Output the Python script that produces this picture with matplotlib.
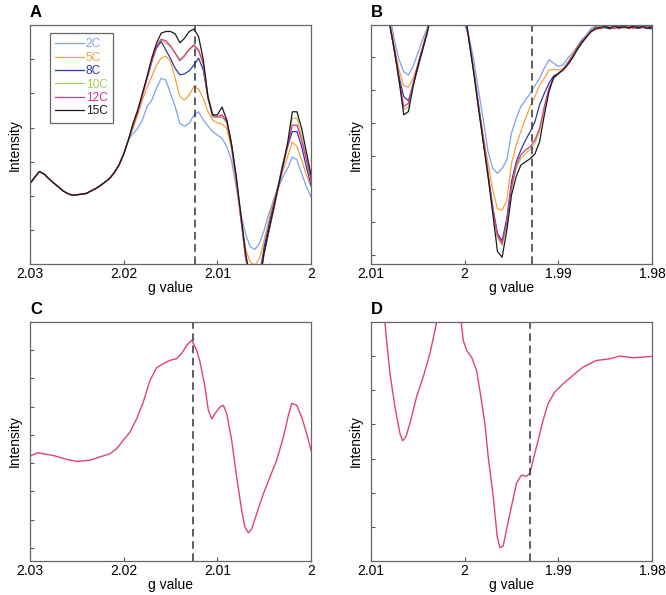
import matplotlib
matplotlib.use('Agg')
import matplotlib.pyplot as plt
import numpy as np

plt.rcParams['font.family'] = ['Liberation Sans', 'DejaVu Sans']

# ---------------- Data ----------------
temps = ['2C', '5C', '8C', '10C', '12C', '15C']
colors = ['#7f9ff2', '#f5a040', '#2b3aa8', '#a8cf52', '#e0338a', '#1a1a1a']

# Panel A: shared baseline part (g 2.030 -> 2.0195) and per-temperature tails (2.019 -> 2.000)
a_g_common = np.round(np.arange(2.0300, 2.0194, -0.0005), 4)
a_g_tail = np.round(np.arange(2.0190, 1.99995, -0.0005), 4)
a_common = [2.36, 2.54, 2.71, 2.64, 2.51, 2.38, 2.27, 2.15, 2.07, 2.02, 2.03,
            2.05, 2.07, 2.14, 2.21, 2.30, 2.40, 2.51, 2.68, 2.90, 3.22, 3.63]
a_2C = [3.83, 3.97, 4.22, 4.61, 4.80, 5.15, 5.44, 5.39, 5.00, 4.61, 4.12, 4.04, 4.12,
        4.37, 4.46, 4.22, 4.04, 3.88, 3.78, 3.68, 3.44, 3.05, 2.27, 1.48, 0.90, 0.51,
        0.43, 0.61, 1.00, 1.48, 1.88, 2.22, 2.56, 2.80, 3.14, 3.05, 2.66, 2.27, 1.97]
a_5C = [3.97, 4.37, 4.80, 5.18, 5.49, 5.83, 6.03, 6.09, 5.93, 5.44, 4.90, 4.80, 4.95,
        5.20, 5.12, 4.85, 4.46, 4.22, 4.14, 4.10, 3.97, 3.39, 2.41, 1.34, 0.46, 0.07,
        -0.03, 0.17, 0.70, 1.29, 1.88, 2.27, 2.75, 3.14, 3.58, 3.44, 3.05, 2.61, 2.27]
a_8C = [4.07, 4.46, 4.95, 5.44, 5.93, 6.32, 6.52, 6.27, 6.02, 5.73, 5.54, 5.57, 5.66,
        5.83, 6.03, 5.68, 4.85, 4.32, 4.30, 4.30, 4.22, 3.54, 2.56, 1.39, 0.21, -0.42,
        -0.57, -0.32, 0.51, 1.14, 1.73, 2.31, 2.95, 3.44, 3.88, 3.88, 3.44, 2.85, 2.31]
a_10C = [4.10, 4.48, 4.97, 5.47, 5.96, 6.39, 6.58, 6.46, 6.37, 6.19, 5.98, 6.13, 6.27,
         6.39, 6.23, 5.83, 4.88, 4.34, 4.30, 4.30, 4.14, 3.47, 2.49, 1.37, 0.24, -0.52,
         -0.71, -0.52, 0.33, 0.98, 1.61, 2.27, 2.90, 3.54, 4.27, 4.27, 3.73, 3.14, 2.56]
a_12C = [4.07, 4.46, 4.95, 5.44, 5.93, 6.37, 6.58, 6.54, 6.39, 6.17, 5.96, 6.09, 6.29,
         6.42, 6.27, 5.88, 4.90, 4.37, 4.32, 4.37, 4.17, 3.49, 2.51, 1.39, 0.26, -0.47,
         -0.66, -0.47, 0.31, 0.95, 1.58, 2.22, 2.85, 3.44, 4.07, 4.07, 3.63, 3.05, 2.46]
a_15C = [4.12, 4.51, 5.00, 5.49, 6.03, 6.46, 6.76, 6.81, 6.81, 6.74, 6.48, 6.61, 6.81,
         6.88, 6.66, 5.98, 4.90, 4.37, 4.37, 4.60, 4.22, 3.54, 2.61, 1.48, 0.36, -0.47,
         -0.76, -0.57, 0.36, 1.00, 1.63, 2.27, 2.90, 3.54, 4.46, 4.46, 3.97, 3.29, 2.61]

# Panel B: g 2.010 -> 1.980
b_g = np.round(np.arange(2.0100, 1.97995, -0.0005), 4)
b_2C = [10.5, 9.6, 8.6, 7.7, 7.3, 6.53, 5.92, 5.56, 5.46, 5.72, 6.12, 6.53, 6.88, 7.4, 8.6,
        9.6, 10.2, 10.2, 9.6, 8.6, 7.0, 6.58, 5.87, 4.95, 4.09, 3.13, 2.62, 2.47, 2.62, 2.87,
        3.69, 4.14, 4.50, 4.70, 4.90, 5.13, 5.36, 5.67, 5.92, 5.82, 5.72, 5.77, 5.97, 6.12,
        6.32, 6.53, 6.68, 6.88, 6.95, 6.91, 6.88, 6.93, 6.90, 6.86, 6.92, 6.89, 6.94, 6.88,
        6.91, 6.87, 6.90]
b_5C = [10.5, 9.6, 8.6, 7.7, 7.1, 6.32, 5.61, 5.13, 5.09, 5.36, 5.77, 6.32, 6.81, 7.4, 8.6,
        9.6, 10.2, 10.2, 9.6, 8.6, 7.4, 6.48, 5.56, 4.55, 3.63, 2.77, 1.96, 1.40, 1.35, 1.65,
        2.77, 3.33, 3.74, 4.14, 4.50, 4.80, 5.16, 5.36, 5.61, 5.63, 5.61, 5.66, 5.84, 6.07,
        6.32, 6.48, 6.65, 6.81, 6.93, 6.90, 6.94, 6.89, 6.92, 6.88, 6.95, 6.91, 6.87, 6.93,
        6.90, 6.94, 6.89]
b_8C = [10.5, 9.6, 8.6, 7.7, 7.0, 6.22, 5.41, 4.80, 4.68, 5.16, 5.66, 6.22, 6.75, 7.4, 8.6,
        9.6, 10.2, 10.2, 9.6, 8.6, 7.4, 6.48, 5.53, 4.50, 3.48, 2.47, 1.45, 0.64, 0.42, 1.10,
        2.21, 2.82, 3.18, 3.48, 3.74, 4.04, 4.55, 4.90, 5.21, 5.43, 5.51, 5.61, 5.82, 6.02,
        6.27, 6.48, 6.63, 6.81, 6.91, 6.87, 6.91, 6.86, 6.93, 6.89, 6.94, 6.88, 6.92, 6.87,
        6.91, 6.89, 6.86]
b_10C = [10.5, 9.6, 8.6, 7.7, 7.0, 6.20, 5.26, 4.40, 4.50, 5.16, 5.74, 6.25, 6.76, 7.4, 8.6,
         9.6, 10.2, 10.2, 9.6, 8.6, 7.4, 6.46, 5.49, 4.42, 3.40, 2.39, 1.35, 0.52, 0.28, 0.92,
         2.01, 2.62, 2.92, 3.08, 3.20, 3.38, 3.74, 4.40, 5.01, 5.37, 5.50, 5.62, 5.79, 5.99,
         6.23, 6.44, 6.62, 6.80, 6.90, 6.86, 6.92, 6.96, 6.89, 6.93, 6.87, 6.92, 6.95, 6.89,
         6.94, 6.90, 6.94]
b_12C = [10.5, 9.6, 8.6, 7.7, 7.0, 6.17, 5.31, 4.50, 4.60, 5.21, 5.77, 6.27, 6.78, 7.4, 8.6,
         9.6, 10.2, 10.2, 9.6, 8.6, 7.4, 6.48, 5.51, 4.45, 3.43, 2.42, 1.40, 0.59, 0.34, 0.99,
         2.06, 2.72, 3.03, 3.18, 3.28, 3.48, 3.84, 4.50, 5.06, 5.36, 5.49, 5.63, 5.80, 6.00,
         6.24, 6.45, 6.63, 6.78, 6.85, 6.88, 6.95, 6.90, 6.87, 6.94, 6.91, 6.96, 6.88, 6.93,
         6.90, 6.95, 6.91]
b_15C = [10.5, 9.6, 8.6, 7.7, 7.0, 6.22, 5.31, 4.25, 4.35, 5.11, 5.72, 6.22, 6.73, 7.4, 8.6,
         9.6, 10.2, 10.2, 9.6, 8.6, 7.4, 6.43, 5.46, 4.40, 3.38, 2.37, 1.25, 0.10, -0.08, 0.74,
         1.81, 2.37, 2.72, 2.82, 2.92, 3.06, 3.43, 4.24, 4.95, 5.39, 5.51, 5.61, 5.77, 5.97,
         6.22, 6.43, 6.61, 6.78, 6.88, 6.91, 6.93, 6.88, 6.95, 6.90, 6.93, 6.89, 6.94, 6.90,
         6.93, 6.88, 6.92]

# Panel C: single spectrum, g 2.030 -> 2.000
c_g = [2.03000, 2.02911, 2.02858, 2.02751, 2.02609, 2.02502, 2.02359, 2.02253, 2.02146,
       2.02075, 2.02004, 2.01932, 2.01861, 2.01790, 2.01719, 2.01648, 2.01577, 2.01505,
       2.01434, 2.01381, 2.01327, 2.01274, 2.01221, 2.01185, 2.01132, 2.01096, 2.01060,
       2.01025, 2.00972, 2.00936, 2.00900, 2.00847, 2.00794, 2.00740, 2.00705, 2.00669,
       2.00633, 2.00580, 2.00509, 2.00438, 2.00367, 2.00295, 2.00242, 2.00206, 2.00153,
       2.00100, 2.00046, 2.00000]
c_int = [3.25, 3.37, 3.33, 3.27, 3.13, 3.06, 3.10, 3.22, 3.33, 3.51, 3.81, 4.10, 4.57, 5.17,
         5.93, 6.38, 6.52, 6.64, 6.70, 6.88, 7.17, 7.35, 7.00, 6.58, 5.70, 4.87, 4.57, 4.75,
         4.99, 5.05, 4.75, 3.81, 2.51, 1.32, 0.73, 0.53, 0.67, 1.21, 1.91, 2.51, 3.10, 3.92,
         4.69, 5.11, 5.05, 4.63, 4.04, 3.45]

# Panel D: single spectrum, g 2.010 -> 1.980
d_g = [2.01000, 2.00868, 2.00833, 2.00797, 2.00744, 2.00691, 2.00662, 2.00627, 2.00584,
       2.00513, 2.00442, 2.00371, 2.00317, 2.00264, 2.00175, 2.00122, 2.00058, 2.00015,
       1.99980, 1.99926, 1.99873, 1.99838, 1.99784, 1.99749, 1.99695, 1.99653, 1.99624,
       1.99589, 1.99553, 1.99500, 1.99447, 1.99393, 1.99340, 1.99304, 1.99269, 1.99215,
       1.99162, 1.99109, 1.99038, 1.98949, 1.98842, 1.98736, 1.98593, 1.98451, 1.98344,
       1.98202, 1.98000]
d_int = [10.0, 7.52, 6.46, 5.49, 4.51, 3.74, 3.52, 3.64, 4.03, 4.81, 5.39, 6.07, 6.75, 7.52,
         9.4, 9.4, 7.52, 6.46, 6.17, 5.97, 5.58, 5.00, 4.03, 3.06, 1.89, 0.73, 0.39, 0.44,
         0.92, 1.60, 2.28, 2.52, 2.48, 2.57, 2.96, 3.54, 4.13, 4.61, 4.95, 5.19, 5.44, 5.68,
         5.87, 5.92, 6.00, 5.95, 5.99]

a_series = [a_2C, a_5C, a_8C, a_10C, a_12C, a_15C]
b_series = [b_2C, b_5C, b_8C, b_10C, b_12C, b_15C]
pink = '#e0407f'

# ---------------- Plot ----------------
fig = plt.figure(figsize=(6.66, 5.95), dpi=100)
axA = fig.add_axes([0.045, 0.556, 0.422, 0.402])
axB = fig.add_axes([0.557, 0.556, 0.422, 0.402])
axC = fig.add_axes([0.045, 0.057, 0.422, 0.402])
axD = fig.add_axes([0.557, 0.057, 0.422, 0.402])

for name, col, vals in zip(temps, colors, a_series):
    g = np.concatenate([a_g_common, a_g_tail])
    y = np.concatenate([a_common, vals])
    axA.plot(g, y, color=col, lw=0.9, label=name)
for col, vals in zip(colors, b_series):
    axB.plot(b_g, vals, color=col, lw=0.9)
axC.plot(c_g, c_int, color=pink, lw=1.0)
axD.plot(d_g, d_int, color=pink, lw=1.0)

axA.set_ylim(0, 7)
axA.set_yticks([1, 2, 3, 4, 5, 6])
axB.set_ylim(-0.29, 6.98)
axB.set_yticks([0, 1, 2, 3, 4, 5, 6])
axC.set_ylim(-0.47, 8.0)
axC.set_yticks([0, 1, 2, 3, 4, 5, 6, 7])
axD.set_ylim(0, 7)
axD.set_yticks([1, 2, 3, 4, 5, 6])

dashes = (0, (5, 3))
axA.axvline(2.0124, color='#333333', lw=1.1, ls=dashes)
axB.axvline(1.9928, color='#333333', lw=1.1, ls=dashes)
axC.axvline(2.0126, color='#333333', lw=1.1, ls=dashes)
axD.axvline(1.9930, color='#333333', lw=1.1, ls=dashes)

for ax in (axA, axC):
    ax.set_xlim(2.03, 2.0)
    ax.set_xticks([2.03, 2.02, 2.01, 2.0])
    ax.set_xticklabels(['2.03', '2.02', '2.01', '2'])
for ax in (axB, axD):
    ax.set_xlim(2.01, 1.98)
    ax.set_xticks([2.01, 2.0, 1.99, 1.98])
    ax.set_xticklabels(['2.01', '2', '1.99', '1.98'])

for ax, letter in zip((axA, axB, axC, axD), 'ABCD'):
    ax.set_yticklabels([])
    ax.tick_params(direction='in', length=3, width=0.8, color='#555555', labelsize=10, pad=2)
    for sp in ax.spines.values():
        sp.set_color('#666666')
        sp.set_linewidth(0.9)
    ax.set_xlabel('g value', fontsize=10, labelpad=0)
    ax.set_ylabel('Intensity', fontsize=10, labelpad=4)
    ax.text(0.0, 1.02, letter, transform=ax.transAxes, fontsize=12, fontweight='bold',
            ha='left', va='bottom')

leg = axA.legend(loc='upper left', bbox_to_anchor=(0.071, 0.967), borderaxespad=0,
                 fontsize=8.6, labelcolor='linecolor', frameon=True, fancybox=False,
                 handlelength=2.4, handletextpad=0.15, labelspacing=0.12, borderpad=0.45)
leg.get_frame().set_edgecolor('#444444')
leg.get_frame().set_linewidth(0.9)

plt.savefig('out.png', dpi=100)
